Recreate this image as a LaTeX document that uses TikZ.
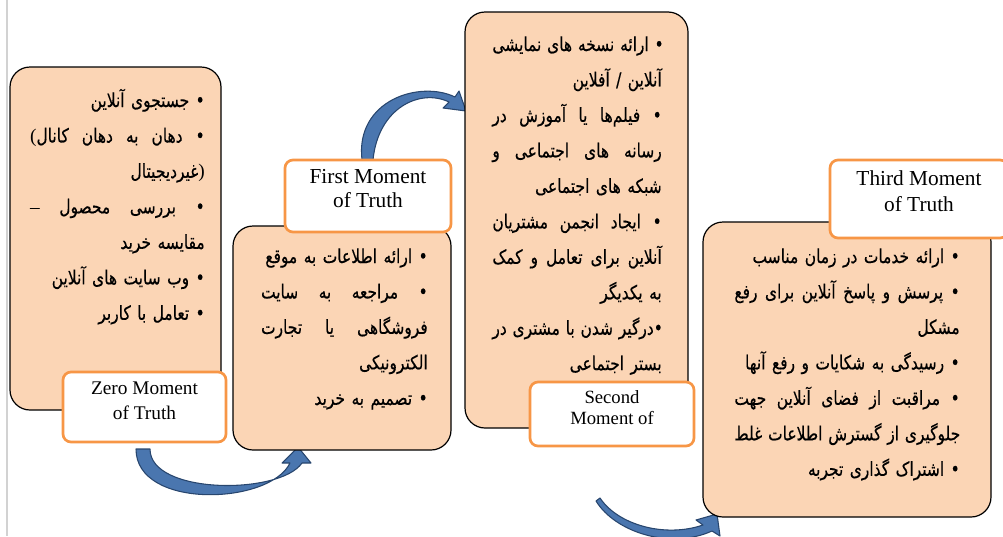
\documentclass[tikz,border=0pt]{standalone}
\usepackage{fontspec}
\setmainfont{Liberation Serif}
\newfontfamily\farsi[Script=Arabic,FakeStretch=0.8,FakeBold=0.4]{DejaVu Sans}
\TeXXeTstate=1
\usetikzlibrary{positioning,fit,backgrounds}

\definecolor{peach}{RGB}{251,213,181}
\definecolor{tagline}{RGB}{247,150,70}
\definecolor{arrowfill}{RGB}{74,118,175}
\definecolor{arrowline}{RGB}{40,70,110}
\definecolor{pagerule}{RGB}{210,210,210}

% a line of a list item stretched over the whole width
\newcommand{\fline}[1]{\hbox to \linewidth{\spaceskip=.3em plus 1fil\relax\beginR #1\endR}}
% the last line of an item, flush right
\newcommand{\rline}[1]{\hbox to \linewidth{\hfil\beginR #1\endR}}
% brackets and dash kept in the Latin font
\newcommand{\lsign}[1]{\hbox{\normalfont #1}}

\tikzset{
	card/.style={draw=black,line width=0.9pt,fill=peach,rounded corners=15pt,inner sep=0pt},
	tag/.style={draw=tagline,line width=2pt,fill=white,rounded corners=6pt,inner sep=0pt,
		align=center,font=\fontsize{14.5}{19}\selectfont},
	items/.style={anchor=base east,inner sep=0pt,font=\farsi\fontsize{14.5}{26.6}\selectfont},
	blockarrow/.style={fill=arrowfill,draw=arrowline,line width=0.8pt,line join=round}
}

\begin{document}
\begin{tikzpicture}[x=0.75pt,y=-0.75pt]
	\useasboundingbox (0,0) rectangle (1003,536);
	\clip (0,0) rectangle (1003,536);
	\draw [pagerule,line width=1.2pt] (7,0) -- (7,536);

	% the four stages
	\node(zbox) [card,fit={(10,67) (221,410)}] {};
	\node(fbox) [card,fit={(233,226) (451,450)}] {};
	\node(sbox) [card,fit={(465,12) (688,428)}] {};
	\node(tbox) [card,fit={(703,222) (991,517)}] {};

	\node(zlab) [tag,fit={(63,372) (226,442)}] {Zero Moment\\of Truth};
	\node(flab) [tag,fit={(285,160) (451,232)},font=\fontsize{16}{18}\selectfont] {First Moment\\of Truth};
	\node(slab) [tag,fit={(530,382) (694,446)},font=\fontsize{14}{16}\selectfont] {Second\\Moment of};
	\node(tlab) [tag,fit={(830,160) (1008,238)},font=\fontsize{16}{19.5}\selectfont] {Third Moment\\of Truth};

	% lists
	\node(ztext) [items,text width=131pt] at (205,107) {%
		\rline{• جستجوی آنلاین}
		\fline{• دهان به دهان کانال\lsign{(}}
		\rline{\lsign{)}غیردیجیتال}
		\fline{• بررسی محصول \lsign{–}}
		\rline{مقایسه خرید}
		\rline{• وب سایت های آنلاین}
		\rline{• تعامل با کاربر}};
	\node(ftext) [items,text width=125pt] at (428,263) {%
		\rline{• ارائه اطلاعات به موقع}
		\fline{• مراجعه به سایت}
		\fline{فروشگاهی یا تجارت}
		\rline{الکترونیکی}
		\rline{• تصمیم به خرید}};
	\node(stext) [items,text width=127pt] at (662,51) {%
		\fline{• ارائه نسخه های نمایشی}
		\rline{آنلاین / آفلاین}
		\fline{• فیلم‌ها یا آموزش در}
		\fline{رسانه های اجتماعی و}
		\rline{شبکه های اجتماعی}
		\fline{• ایجاد انجمن مشتریان}
		\fline{آنلاین برای تعامل و کمک}
		\rline{به یکدیگر}
		\fline{•درگیر شدن با مشتری در}
		\rline{بستر اجتماعی}};
	\node(ttext) [items,text width=169pt] at (960,263) {%
		\rline{• ارائه خدمات در زمان مناسب}
		\fline{• پرسش و پاسخ آنلاین برای رفع}
		\rline{مشکل}
		\rline{• رسیدگی به شکایات و رفع آنها}
		\fline{• مراقبت از فضای آنلاین جهت}
		\fline{جلوگیری از گسترش اطلاعات غلط}
		\rline{• اشتراک گذاری تجربه}};

	% curved arrows between the stages
	\begin{scope}[on background layer]
		\filldraw [blockarrow] (136,449) .. controls (136,510) and (270,505) .. (290,463)
			-- (282,463) -- (298,447) -- (311,463) -- (302,463)
			.. controls (280,495) and (150,495) .. (150,449) -- cycle;
		\filldraw [blockarrow] (362,160) .. controls (355,100) and (420,80) .. (455,97)
			-- (459,91) -- (466,111) -- (443,108) -- (449,102)
			.. controls (420,88) and (378,108) .. (373,160) -- cycle;
		\filldraw [blockarrow] (596,501) .. controls (615,532) and (670,550) .. (712,531)
			-- (720,536) -- (717,514) -- (696,520) -- (703,525)
			.. controls (665,538) and (618,525) .. (600,498) -- cycle;
	\end{scope}
\end{tikzpicture}
\end{document}
